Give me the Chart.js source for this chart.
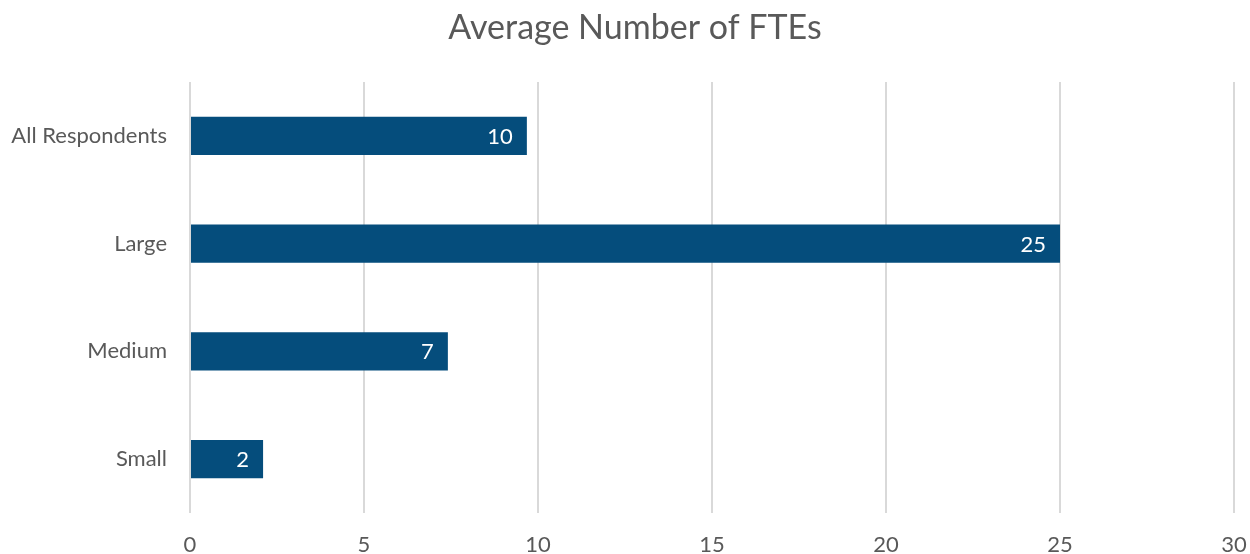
<!DOCTYPE html>
<html>
<head>
<meta charset="utf-8">
<script src="https://cdn.jsdelivr.net/npm/chart.js@4.4.1/dist/chart.umd.min.js"></script>
<style>
  html, body { margin: 0; padding: 0; background: #fff; }
  #wrap { width: 1250px; height: 554px; }
</style>
</head>
<body>
<div id="wrap"><canvas id="fte-chart"></canvas></div>
<script>
const categories = ['All Respondents', 'Large', 'Medium', 'Small'];
const fteValues = [9.68, 25.0, 7.41, 2.1];
const xTicks = [0, 5, 10, 15, 20, 25, 30];
const chartTitle = 'Average Number of FTEs';

const FONT = 'Lato, "Open Sans", sans-serif';
const BAR_COLOR = '#054d7c';
const TEXT_COLOR = '#595959';

// title sits a little right of the canvas centre, like the original
const titleText = {
  id: 'titleText',
  afterDraw(chart) {
    const ctx = chart.ctx;
    ctx.save();
    ctx.fillStyle = TEXT_COLOR;
    ctx.font = '34px ' + FONT;
    ctx.textAlign = 'center';
    ctx.textBaseline = 'middle';
    ctx.fillText(chartTitle, chart.width / 2 + 10, 28);
    ctx.restore();
  },
};

// white value labels drawn just inside the end of each bar
const barLabels = {
  id: 'barLabels',
  afterDatasetsDraw(chart) {
    const ctx = chart.ctx;
    const meta = chart.getDatasetMeta(0);
    ctx.save();
    ctx.fillStyle = '#ffffff';
    ctx.font = '22px ' + FONT;
    ctx.textAlign = 'right';
    ctx.textBaseline = 'middle';
    meta.data.forEach((bar, i) => {
      ctx.fillText(String(Math.round(fteValues[i])), bar.x - 14, bar.y + 1);
    });
    ctx.restore();
  },
};

const ctx = document.getElementById('fte-chart').getContext('2d');
new Chart(ctx, {
  type: 'bar',
  data: {
    labels: categories,
    datasets: [
      {
        data: fteValues,
        backgroundColor: BAR_COLOR,
        borderWidth: 0,
        barPercentage: 0.355,
        categoryPercentage: 1,
      },
    ],
  },
  plugins: [barLabels, titleText],
  options: {
    indexAxis: 'y',
    responsive: true,
    maintainAspectRatio: false,
    animation: false,
    layout: { padding: { left: 0, right: 16, top: 82, bottom: 0 } },
    plugins: {
      legend: { display: false },
      tooltip: { enabled: false },
      title: { display: false },
    },
    scales: {
      x: {
        min: 0,
        max: 30,
        afterBuildTicks: (axis) => {
          axis.ticks = xTicks.map((v) => ({ value: v }));
        },
        afterFit: (axis) => {
          axis.height = 41;
          axis.paddingLeft = 0;
          axis.paddingRight = 0;
        },
        grid: {
          color: '#d9d9d9',
          lineWidth: 2,
          drawTicks: false,
        },
        border: { display: false },
        ticks: {
          color: TEXT_COLOR,
          font: { family: FONT, size: 22 },
          padding: 19,
        },
      },
      y: {
        afterFit: (axis) => {
          axis.width = 190;
        },
        grid: { display: false, drawTicks: false },
        border: { display: false },
        ticks: {
          color: TEXT_COLOR,
          font: { family: FONT, size: 22 },
          padding: 23,
        },
      },
    },
  },
});
</script>
</body>
</html>
